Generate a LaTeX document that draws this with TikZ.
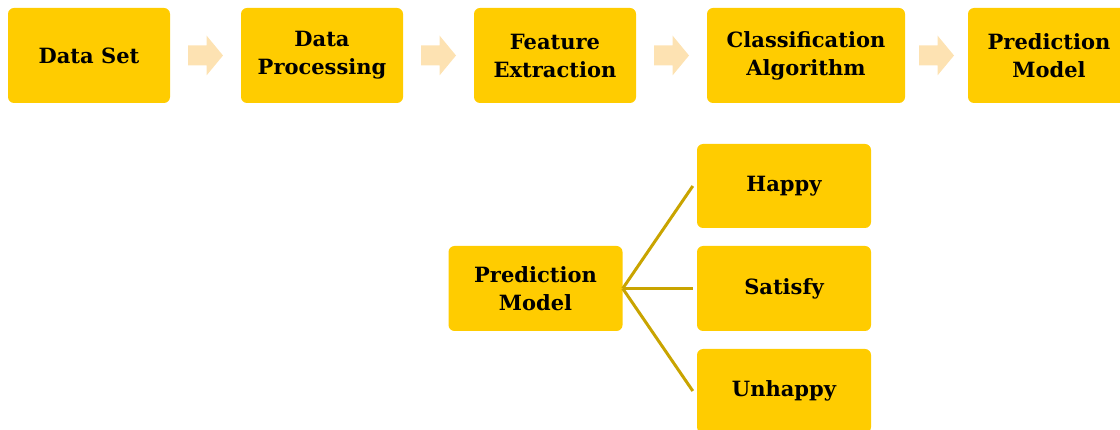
\documentclass[tikz,border=0pt]{standalone}
\usepackage{fontspec}
\setmainfont{DejaVu Serif}
\usetikzlibrary{calc}
\definecolor{boxfill}{HTML}{FFCC00}
\definecolor{arrfill}{HTML}{FDE2B2}
\definecolor{linecol}{HTML}{C9A400}
\tikzset{
  stepbox/.style={rectangle, rounded corners=6pt, fill=boxfill, draw=none,
    align=center, inner sep=0pt, font=\bfseries\fontsize{21}{28}\selectfont,
    text=black},
  link/.style={draw=linecol, line width=3pt},
  blockarrow/.pic={
    \fill[arrfill] (-17.5,-10) -- (1,-10) -- (1,-20) -- (17.5,0) -- (1,20) -- (1,10) -- (-17.5,10) -- cycle;
  }
}
\begin{document}
\begin{tikzpicture}[x=1pt,y=-1pt]
\useasboundingbox (0,0) rectangle (1120,430);
\clip (0,0) rectangle (1120,430);
% top row
\node[stepbox, minimum width=162pt, minimum height=95pt] (ds) at (89,55.5) {Data Set};
\node[stepbox, minimum width=162pt, minimum height=95pt] (dp) at (322,55.5) {Data\\Processing};
\node[stepbox, minimum width=162pt, minimum height=95pt] (fe) at (555,55.5) {Feature\\Extraction};
\node[stepbox, minimum width=198pt, minimum height=95pt] (ca) at (806,55.5) {Classification\\Algorithm};
\node[stepbox, minimum width=162pt, minimum height=95pt] (pm) at (1049,55.5) {Prediction\\Model};
\pic at ($(ds.east)!0.5!(dp.west)$) {blockarrow};
\pic at ($(dp.east)!0.5!(fe.west)$) {blockarrow};
\pic at ($(fe.east)!0.5!(ca.west)$) {blockarrow};
\pic at ($(ca.east)!0.5!(pm.west)$) {blockarrow};
% bottom tree
\node[stepbox, minimum width=174pt, minimum height=85pt] (pm2) at (535.5,288.5) {Prediction\\Model};
\node[stepbox, minimum width=174pt, minimum height=84pt] (hp) at (784,186) {Happy};
\node[stepbox, minimum width=174pt, minimum height=85pt] (sf) at (784,288.5) {Satisfy};
\node[stepbox, minimum width=174pt, minimum height=84pt] (uh) at (784,391) {Unhappy};
\draw[link] (pm2.east) -- ([xshift=-4pt]hp.west);
\draw[link] (pm2.east) -- ([xshift=-4pt]sf.west);
\draw[link] (pm2.east) -- ([xshift=-4pt]uh.west);
\end{tikzpicture}
\end{document}
